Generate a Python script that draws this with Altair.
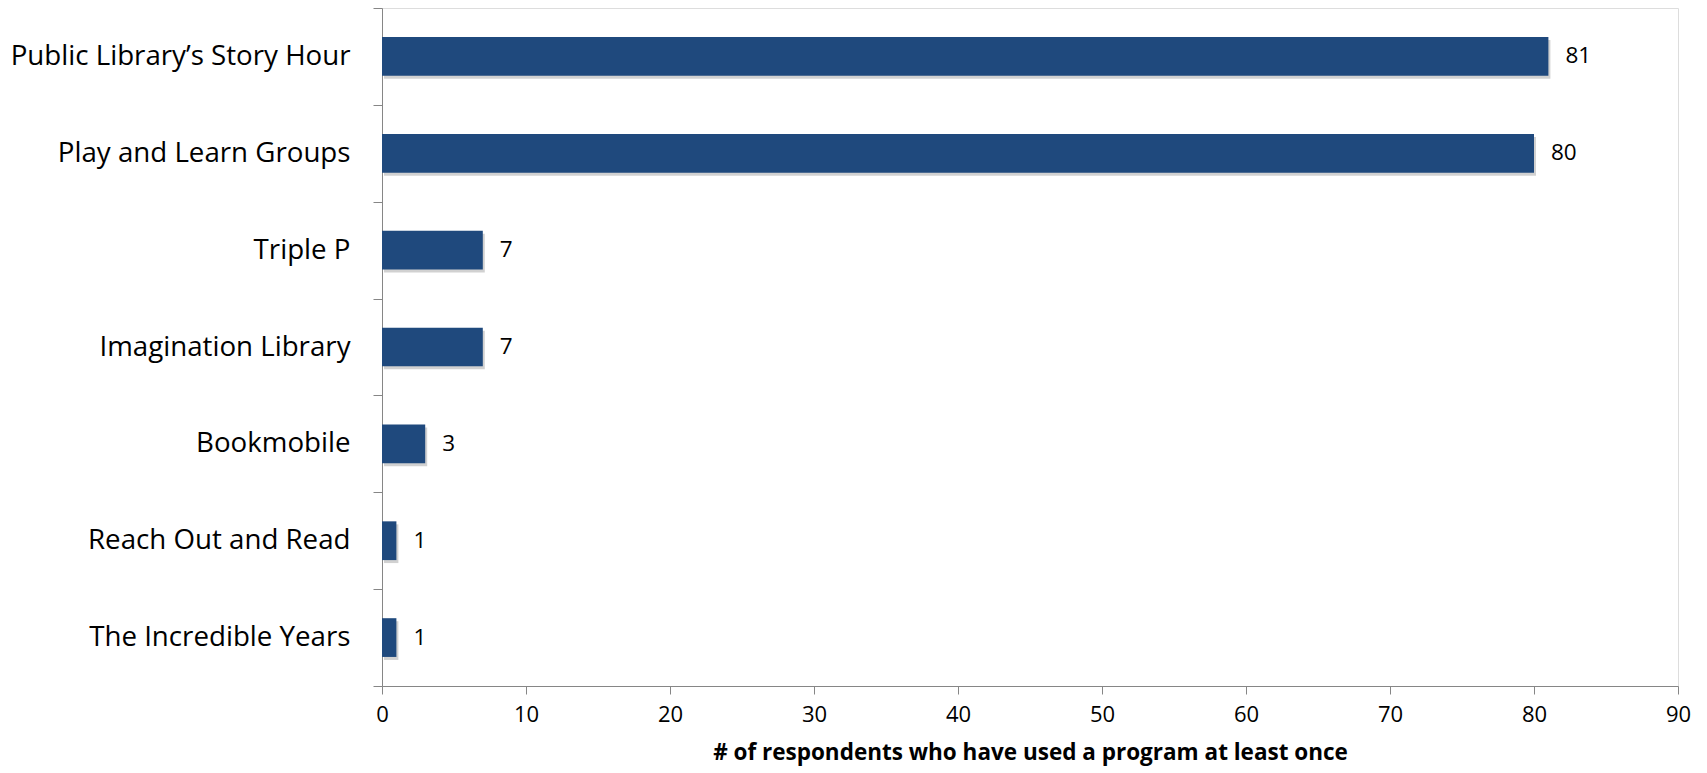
import altair as alt
import pandas as pd

programs = [
    "Public Library’s Story Hour",
    "Play and Learn Groups",
    "Triple P",
    "Imagination Library",
    "Bookmobile",
    "Reach Out and Read",
    "The Incredible Years",
]
counts = [81, 80, 7, 7, 3, 1, 1]
x_ticks = [0, 10, 20, 30, 40, 50, 60, 70, 80, 90]
x_title = "# of respondents who have used a program at least once"

df = pd.DataFrame({"program": programs, "count": counts})

FONT = "Open Sans"
BAR = "#1f497d"
AXIS = "#868686"

y_enc = alt.Y(
    "program:N",
    sort=programs,
    scale=alt.Scale(paddingInner=0, paddingOuter=0),
    axis=alt.Axis(
        title=None,
        tickBand="extent",
        domainColor=AXIS,
        tickColor=AXIS,
        tickSize=9,
        labelPadding=23,
        labelFont=FONT,
        labelFontSize=27.7,
        labelColor="black",
        labelLimit=600,
    ),
)
x_enc = alt.X(
    "count:Q",
    scale=alt.Scale(domain=[0, 90], nice=False),
    axis=alt.Axis(
        title=x_title,
        values=x_ticks,
        grid=False,
        labelFlush=False,
        domainColor=AXIS,
        tickColor=AXIS,
        tickSize=8,
        labelPadding=10,
        labelFont=FONT,
        labelFontSize=22,
        labelColor="black",
        titleFont=FONT,
        titleFontSize=22.5,
        titleFontWeight="bold",
        titleColor="black",
        titlePadding=16,
    ),
)

BAND = {"band": 0.4}
base = alt.Chart(df)
shadow = base.mark_bar(
    color="#000000", opacity=0.18, xOffset=2, yOffset=3, height=BAND
).encode(x=x_enc, y=y_enc)
bars = base.mark_bar(color=BAR, height=BAND).encode(x=x_enc, y=y_enc)
labels = base.mark_text(
    align="left", baseline="middle", dx=17, font=FONT, fontSize=22.5, color="black"
).encode(x=x_enc, y=y_enc, text="count:Q")

chart = (
    alt.layer(shadow, bars, labels)
    .properties(
        width=1296,
        height=678,
        autosize=alt.AutoSizeParams(type="none"),
        padding={"left": 374, "top": 0, "right": 17, "bottom": 80},
    )
    .configure_view(stroke=None)
    .configure(background="white")
)

chart.save("out.html", embed_options={"renderer": "svg", "actions": False})
